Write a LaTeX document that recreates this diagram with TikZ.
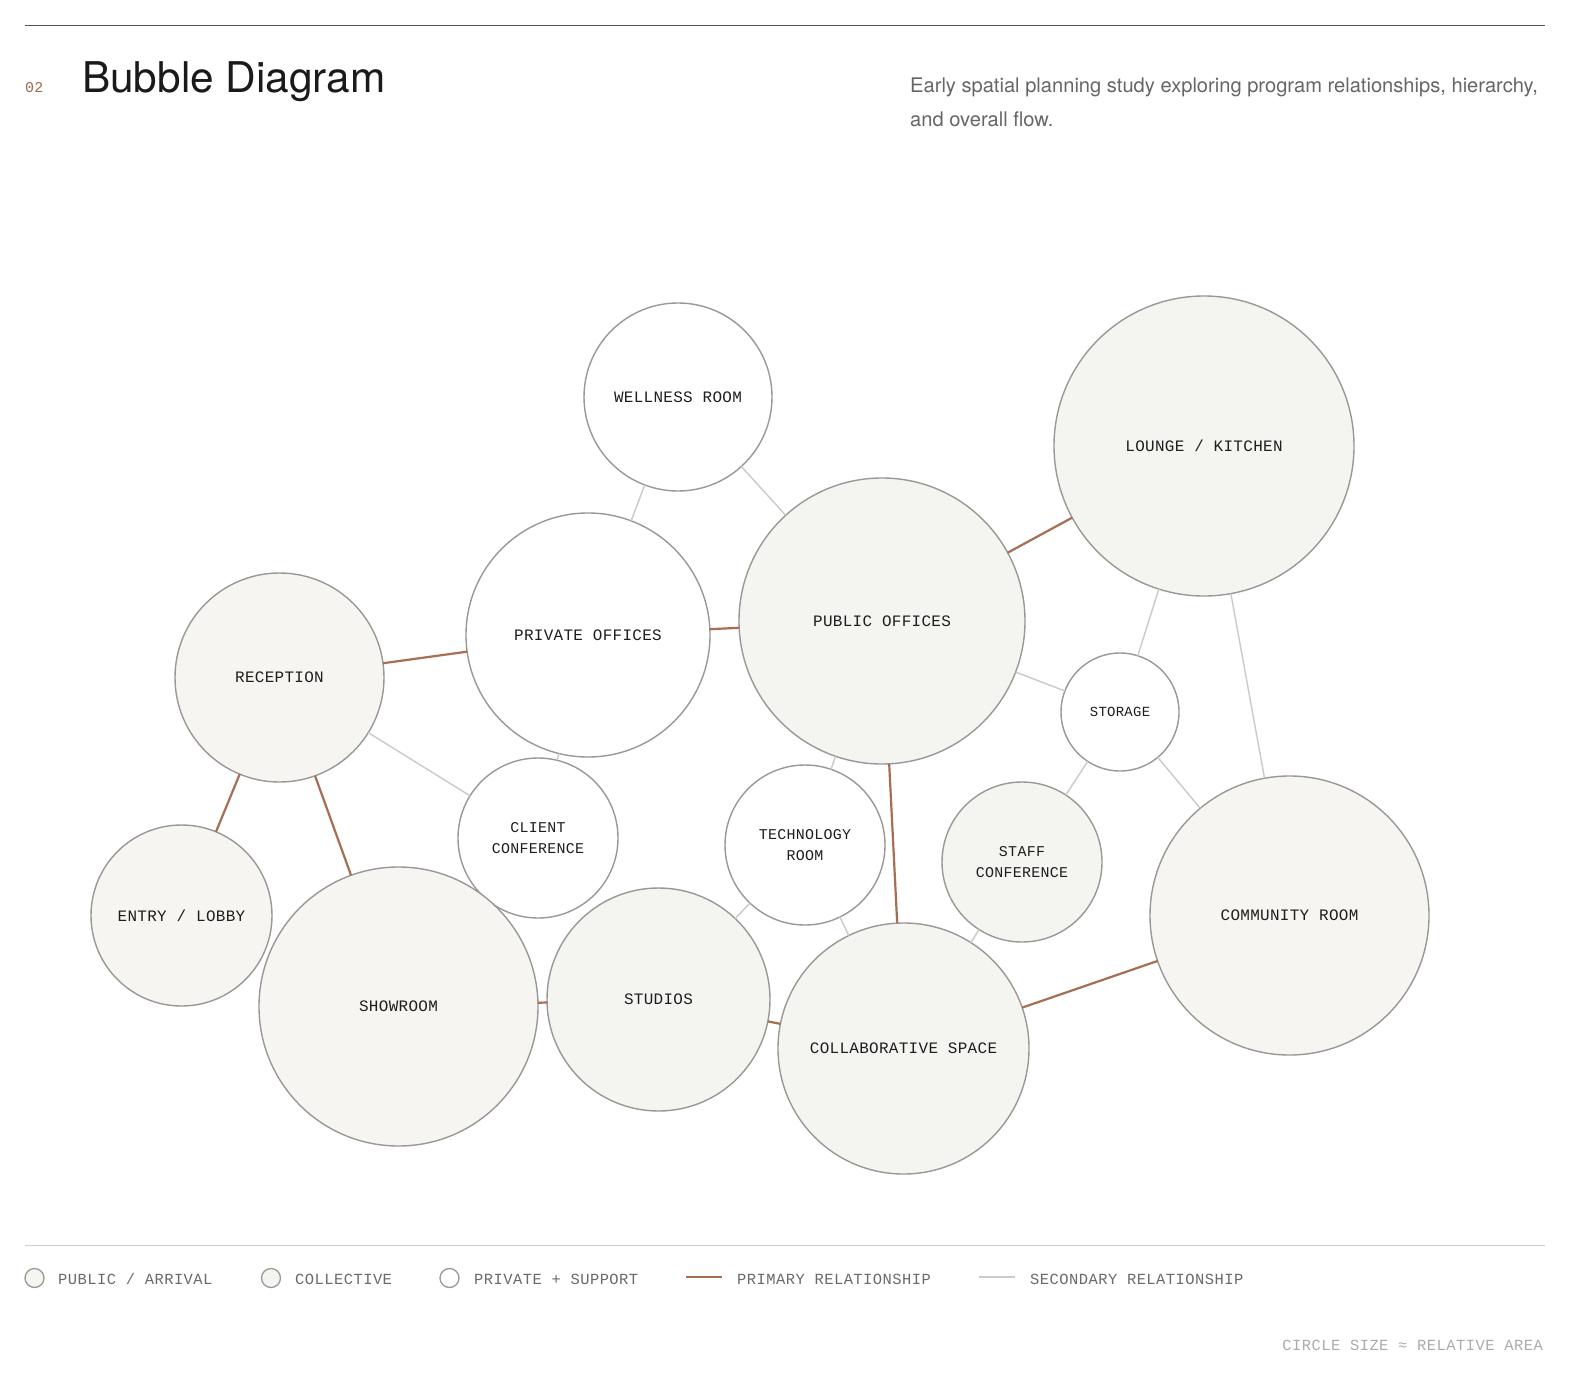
\documentclass[tikz,border=0pt]{standalone}
\usepackage{fontspec}
\setmainfont{TeX Gyre Heros}
\newfontfamily\labelfont[LetterSpace=2]{Liberation Mono}
\newfontfamily\legfont[LetterSpace=3]{Liberation Mono}
\newfontfamily\headfont{TeX Gyre Heros}
\definecolor{toprule}{HTML}{555555}
\definecolor{botrule}{HTML}{CFCFCF}
\definecolor{titlecol}{HTML}{1A1A1A}
\definecolor{numcol}{HTML}{A0674A}
\definecolor{subcol}{HTML}{666666}
\definecolor{ringgray}{HTML}{999895}
\definecolor{pubfill}{HTML}{F7F5F1}
\definecolor{collfill}{HTML}{F4F4F1}
\definecolor{primcol}{HTML}{A66E52}
\definecolor{seccol}{HTML}{CACACA}
\definecolor{labelcol}{HTML}{1E1E1E}
\definecolor{legcol}{HTML}{6A6A6A}
\definecolor{notecol}{HTML}{ABABAB}
\begin{document}
\begin{tikzpicture}[x=1bp,y=-1bp,
  room/.style={circle, draw=ringgray, line width=1.4bp, inner sep=0pt, outer sep=0pt, text=labelcol, align=center},
  pub/.style={room, fill=pubfill},
  coll/.style={room, fill=collfill},
  priv/.style={room, fill=white},
  biglbl/.style={font=\labelfont\fontsize{16}{21}\selectfont},
  smalllbl/.style={font=\labelfont\fontsize{15}{20.7}\selectfont},
  tinylbl/.style={font=\labelfont\fontsize{14}{18}\selectfont},
  prim/.style={draw=primcol, line width=2.2bp},
  sec/.style={draw=seccol, line width=1.4bp},
  legtext/.style={anchor=base west, inner sep=0pt, text=legcol, font=\legfont\fontsize{15.5}{18}\selectfont},
  legdot/.style={circle, draw=ringgray, line width=1.3bp, minimum size=19bp, inner sep=0pt},
]
\useasboundingbox (0,0) rectangle (1571,1376);
\fill[white] (0,0) rectangle (1571,1376);

% header
\coordinate (trl) at (25,25.5);
\coordinate (trr) at (1545,25.5);
\draw[toprule, line width=1.6bp] (trl) -- (trr);
\node[anchor=base west, inner sep=0pt, text=numcol, font=\labelfont\fontsize{15}{18}\selectfont] (num) at (25,93) {02};
\node[anchor=base west, inner sep=0pt, text=titlecol, font=\headfont\fontsize{42.5}{48}\selectfont] (title) at (82,92.5) {Bubble Diagram};
\node[anchor=base west, inner sep=0pt, text=subcol, font=\headfont\fontsize{20.2}{24}\selectfont] (sub1) at (910,93) {Early spatial planning study exploring program relationships, hierarchy,};
\node[anchor=base west, inner sep=0pt, text=subcol, font=\headfont\fontsize{20.2}{24}\selectfont] (sub2) at (910,126.5) {and overall flow.};

% rooms
\node[priv, biglbl, minimum size=188bp] (well) at (678,397) {WELLNESS ROOM};
\node[coll, biglbl, minimum size=300bp] (lounge) at (1204,446) {LOUNGE / KITCHEN};
\node[priv, biglbl, minimum size=244bp] (privoff) at (588,635) {PRIVATE OFFICES};
\node[coll, biglbl, minimum size=286bp] (puboff) at (882,621) {PUBLIC OFFICES};
\node[pub, biglbl, minimum size=209bp] (recep) at (279.5,677.5) {RECEPTION};
\node[priv, tinylbl, minimum size=118bp] (stor) at (1120,712) {STORAGE};
\node[priv, smalllbl, minimum size=160bp] (client) at (538,838) {CLIENT\\CONFERENCE};
\node[priv, smalllbl, minimum size=160bp] (tech) at (805,845) {TECHNOLOGY\\ROOM};
\node[coll, smalllbl, minimum size=160bp] (staff) at (1022,862) {STAFF\\CONFERENCE};
\node[pub, biglbl, minimum size=279bp] (comm) at (1289.5,915.5) {COMMUNITY ROOM};
\node[pub, biglbl, minimum size=181bp] (entry) at (181.5,915.5) {ENTRY / LOBBY};
\node[pub, biglbl, minimum size=279bp] (show) at (398.5,1006.5) {SHOWROOM};
\node[coll, biglbl, minimum size=223bp] (stud) at (658.5,999.5) {STUDIOS};
\node[coll, biglbl, minimum size=251bp] (collab) at (903.5,1048.5) {COLLABORATIVE SPACE};

% secondary relationships
\draw[sec] (well) -- (privoff);
\draw[sec] (well) -- (puboff);
\draw[sec] (recep) -- (client);
\draw[sec] (privoff) -- (client);
\draw[sec] (puboff) -- (stor);
\draw[sec] (puboff) -- (tech);
\draw[sec] (lounge) -- (stor);
\draw[sec] (lounge) -- (comm);
\draw[sec] (stor) -- (staff);
\draw[sec] (stor) -- (comm);
\draw[sec] (tech) -- (stud);
\draw[sec] (tech) -- (collab);
\draw[sec] (staff) -- (collab);

% primary relationships
\draw[prim] (recep) -- (privoff);
\draw[prim] (privoff) -- (puboff);
\draw[prim] (puboff) -- (lounge);
\draw[prim] (recep) -- (entry);
\draw[prim] (recep) -- (show);
\draw[prim] (show) -- (stud);
\draw[prim] (stud) -- (collab);
\draw[prim] (puboff) -- (collab);
\draw[prim] (collab) -- (comm);

% legend
\coordinate (brl) at (25,1245.5);
\coordinate (brr) at (1545,1245.5);
\draw[botrule, line width=1.3bp] (brl) -- (brr);
\node[legdot, fill=pubfill] (lg1) at (34.5,1278) {};
\node[legtext] (lt1) at (58,1284) {PUBLIC / ARRIVAL};
\node[legdot, fill=collfill] (lg2) at (271,1278) {};
\node[legtext] (lt2) at (295,1284) {COLLECTIVE};
\node[legdot, fill=white] (lg3) at (449.5,1278) {};
\node[legtext] (lt3) at (474,1284) {PRIVATE + SUPPORT};
\coordinate (pa) at (686,1277);
\coordinate (pb) at (722,1277);
\draw[prim] (pa) -- (pb);
\node[legtext] (lt4) at (737,1284) {PRIMARY RELATIONSHIP};
\coordinate (sa) at (979,1277);
\coordinate (sb) at (1015,1277);
\draw[sec] (sa) -- (sb);
\node[legtext] (lt5) at (1030,1284) {SECONDARY RELATIONSHIP};
\node[anchor=base east, inner sep=0pt, text=notecol, font=\legfont\fontsize{15.5}{18}\selectfont] (note) at (1543,1350) {CIRCLE SIZE ≈ RELATIVE AREA};
\end{tikzpicture}
\end{document}
